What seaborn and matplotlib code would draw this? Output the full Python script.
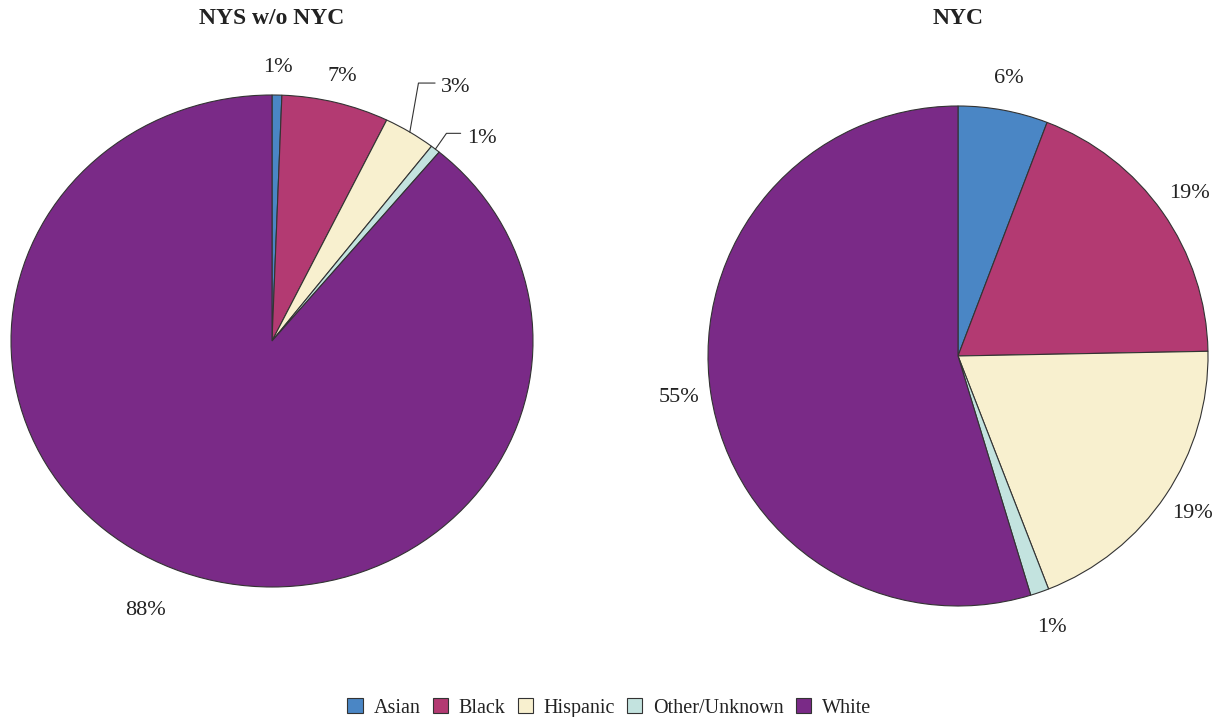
import numpy as np
import matplotlib
matplotlib.use("Agg")
import matplotlib.pyplot as plt
import seaborn as sns

# ===== DATA =====
groups = ["Asian", "Black", "Hispanic", "Other/Unknown", "White"]
nys_wo_nyc = [0.6, 6.6, 3.2, 0.6, 88.4]
nyc = [5.8, 18.9, 19.4, 1.2, 54.7]
titles = ["NYS w/o NYC", "NYC"]

colors = ["#4a86c5", "#b33a72", "#f8f0cf", "#c3e3df", "#7a2a87"]

# ===== STYLE =====
sns.set_theme(style="white")
plt.rcParams["font.family"] = ["Liberation Serif", "DejaVu Serif"]
sns.set_palette(colors)

fig = plt.figure(figsize=(12.19, 7.17), dpi=100)
W, H = 1219, 717

# pie boxes in pixels (left, top, right, bottom)
boxes = [(11, 95, 533, 587), (708, 106, 1208, 606)]


def add_ax(box):
    l, t, r, b = box
    return fig.add_axes([l / W, (H - b) / H, (r - l) / W, (b - t) / H])


# leader lines for thin slices on the left pie: index -> (text offset, line angle)
leaders = {2: ((0.12, 0.18), 80), 3: ((0.12, 0.045), 55)}
# label distance per pie
label_r = [1.11, 1.13]

wedge_handles = None
for i, (vals, title, box) in enumerate(zip([nys_wo_nyc, nyc], titles, boxes)):
    ax = add_ax(box)
    wedges, _ = ax.pie(vals, colors=colors, startangle=90, counterclock=False,
                       wedgeprops=dict(edgecolor="#333333", linewidth=0.8))
    ax.set_aspect("auto")
    ax.set_xlim(-1, 1)
    ax.set_ylim(-1, 1)
    ax.axis("off")
    if wedge_handles is None:
        wedge_handles = wedges

    for j, (w, v) in enumerate(zip(wedges, vals)):
        mid = np.deg2rad((w.theta1 + w.theta2) / 2)
        lab = f"{v:.0f}%"
        if i == 0 and j in leaders:
            (dx, dy), ang = leaders[j]
            ex, ey = np.cos(mid), np.sin(mid)
            ax.annotate(lab, xy=(ex, ey), xytext=(ex + dx, ey + dy),
                        ha="left", va="center", fontsize=16, color="#222222",
                        annotation_clip=False,
                        arrowprops=dict(arrowstyle="-", color="#333333", lw=0.8,
                                        shrinkA=2, shrinkB=0, relpos=(0, 0.75),
                                        connectionstyle=f"angle,angleA=0,angleB={ang},rad=0"))
        else:
            r = label_r[i]
            if i == 0 and j == 4:
                mid -= np.deg2rad(4)
                r += 0.09
            if i == 1 and j == 3:
                r += 0.02
            ax.text(r * np.cos(mid), r * np.sin(mid), lab, ha="center", va="center",
                    fontsize=16, color="#222222")

    l, t, r_, b = box
    fig.text((l + r_) / 2 / W, 1 - 18 / H, title, ha="center", va="center",
             fontsize=17, fontweight="bold", color="#222222")

fig.legend(wedge_handles, groups, loc="center", bbox_to_anchor=(0.5, 9 / H),
           ncol=5, frameon=False, fontsize=14.5, handlelength=0.75, handleheight=0.75,
           handletextpad=0.55, columnspacing=0.6, labelcolor="#222222")

fig.savefig("out.png", dpi=100)
